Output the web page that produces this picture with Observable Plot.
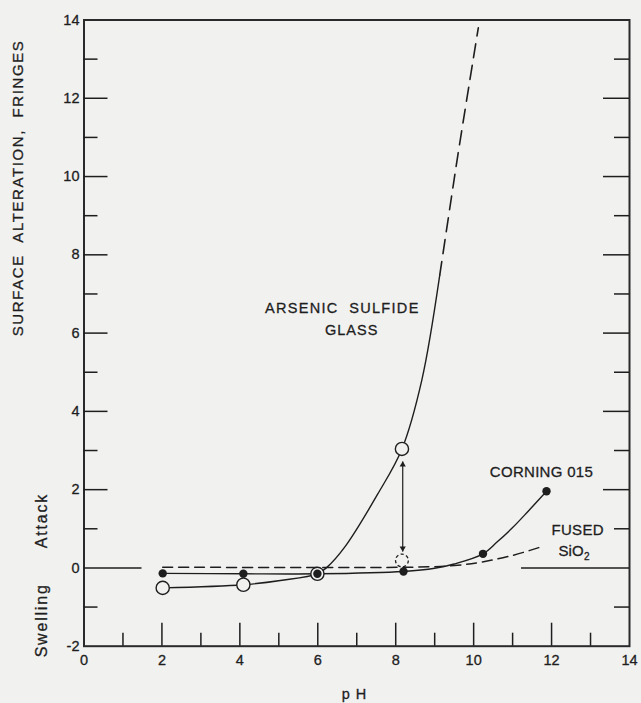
<!DOCTYPE html>
<html>
<head>
<meta charset="utf-8">
<script src="https://cdn.jsdelivr.net/npm/d3@7"></script>
<script src="https://cdn.jsdelivr.net/npm/@observablehq/plot@0.6"></script>
<style>
  html, body { margin: 0; padding: 0; background: #f1f1f0; }
  #chart svg { display: block; }
</style>
</head>
<body>
<div id="chart"></div>
<script>
// ---- axis ticks ----
const xMajorTicks = [2, 4, 6, 8, 10, 12];
const xMinorTicks = [1, 3, 5, 7, 9, 11, 13];
const xTickLabels = [0, 2, 4, 6, 8, 10, 12, 14];
const yMajorTicks = [2, 4, 6, 8, 10, 12];
const yMinorTicks = [-1, 1, 3, 5, 7, 9, 11, 13];
const yTickLabels = [-2, 0, 2, 4, 6, 8, 10, 12, 14];

// ---- Corning 015 ----
const corningPH      = [2.02, 4.09, 5.99, 8.2, 10.24, 11.87];
const corningFringes = [-0.14, -0.15, -0.15, -0.09, 0.36, 1.96];
const corningCurvePH      = [2.02, 4.09, 5.99, 8.2, 9.0, 9.5, 10.24, 10.6, 11.0, 11.4, 11.87];
const corningCurveFringes = [-0.14, -0.15, -0.15, -0.09, -0.01, 0.1, 0.36, 0.66, 1.03, 1.45, 1.96];

// ---- Arsenic sulfide glass ----
const arsenicPH      = [2.02, 4.09, 5.99, 8.16];
const arsenicFringes = [-0.51, -0.43, -0.15, 3.04];
const arsenicCorrectedPH      = [8.16];
const arsenicCorrectedFringes = [0.19];
const arsenicCurvePH      = [2.02, 4.09, 5.04, 5.99, 6.24, 6.69, 7.54, 8.16, 8.67, 9.13];
const arsenicCurveFringes = [-0.51, -0.43, -0.32, -0.15, 0.02, 0.53, 1.89, 3.04, 4.8, 7.48];
const arsenicExtrapPH      = [9.13, 9.43, 9.6, 10.12];
const arsenicExtrapFringes = [7.48, 9.47, 10.58, 13.8];

// shift between the two pH 8.2 readings
const shiftPH = [8.18];
const shiftFrom = [2.72];
const shiftTo = [0.42];

// ---- Fused SiO2 ----
const fusedPH      = [2.02, 8.5, 9.5, 10.2, 11.0, 11.8];
const fusedFringes = [0.02, 0.02, 0.06, 0.15, 0.32, 0.56];

// ---- text ----
const yTitle = "SURFACE\u00a0\u00a0ALTERATION,\u00a0\u00a0FRINGES";
const xTitle = "p H";
const attackLabel = "Attack";
const swellingLabel = "Swelling";
const arsenicLabel = ["ARSENIC\u00a0\u00a0SULFIDE", "GLASS"];
const corningLabel = "CORNING 015";
const fusedLabel = ["FUSED", "SiO", "2"];

const zip = (xs, ys) => xs.map((x, i) => ({x, y: ys[i]}));

const W = 641, H = 703;
const mL = 83.5, mR = 12, mT = 19.5, mB = 57.3;
const plotW = W - mL - mR, plotH = H - mT - mB;
const ink = "#1e1e1e";
const paper = "#f1f1f0";
const font = "'Liberation Sans', Arial, sans-serif";
// slightly heavier lettering
const letter = {fill: ink, stroke: ink, strokeWidth: 0.3, paintOrder: "fill"};

const chart = Plot.plot({
  width: W,
  height: H,
  marginLeft: mL, marginRight: mR, marginTop: mT, marginBottom: mB,
  x: {domain: [0, 14], axis: null},
  y: {domain: [-2, 14], axis: null},
  style: {background: paper, fontFamily: font, fontSize: "14px", color: ink},
  marks: [
    Plot.frame({stroke: "#2a2a2a", strokeWidth: 2}),

    // inward ticks: left, right, bottom
    Plot.tickY(yMajorTicks, {y: d => d, stroke: ink, strokeWidth: 1.5, insetRight: plotW - 24}),
    Plot.tickY(yMinorTicks, {y: d => d, stroke: ink, strokeWidth: 1.5, insetRight: plotW - 14}),
    Plot.tickY(yMajorTicks, {y: d => d, stroke: ink, strokeWidth: 1.5, insetLeft: plotW - 26}),
    Plot.tickY(yMinorTicks, {y: d => d, stroke: ink, strokeWidth: 1.5, insetLeft: plotW - 15}),
    Plot.tickX(xMajorTicks, {x: d => d, stroke: ink, strokeWidth: 1.5, insetTop: plotH - 23}),
    Plot.tickX(xMinorTicks, {x: d => d, stroke: ink, strokeWidth: 1.5, insetTop: plotH - 13}),

    // zero reference stubs at both sides
    Plot.tickY([0], {y: d => d, stroke: ink, strokeWidth: 1.6, insetRight: plotW - 58}),
    Plot.tickY([0], {y: d => d, stroke: ink, strokeWidth: 1.6, insetLeft: plotW - 108}),

    // tick labels
    Plot.text(yTickLabels, {y: d => d, text: d => String(d), frameAnchor: "left", textAnchor: "end",
      lineAnchor: "middle", dx: -4.5, fontSize: 14.5, ...letter}),
    Plot.text(xTickLabels, {x: d => d, text: d => String(d), frameAnchor: "bottom",
      lineAnchor: "middle", dy: 14.3, fontSize: 14.5, ...letter}),

    // axis titles
    Plot.text([yTitle], {text: d => d, frameAnchor: "left", y: 9.71, dx: -66, rotate: -90,
      textAnchor: "middle", lineAnchor: "middle", fontSize: 15, ...letter}),
    Plot.text([attackLabel], {text: d => d, frameAnchor: "left", y: 1.21, dx: -42, rotate: -90,
      textAnchor: "middle", lineAnchor: "middle", fontSize: 16, ...letter}),
    Plot.text([swellingLabel], {text: d => d, frameAnchor: "left", y: -1.34, dx: -42, rotate: -90,
      textAnchor: "middle", lineAnchor: "middle", fontSize: 16, ...letter}),
    Plot.text([xTitle], {text: d => d, x: 6.94, frameAnchor: "bottom", dy: 52.5,
      textAnchor: "middle", lineAnchor: "bottom", fontSize: 14.5, ...letter}),

    // fused SiO2
    Plot.line(zip(fusedPH, fusedFringes), {x: "x", y: "y", curve: "catmull-rom",
      stroke: ink, strokeWidth: 1.5, strokeDasharray: "10,6"}),

    // Corning 015 trend
    Plot.line(zip(corningCurvePH, corningCurveFringes), {x: "x", y: "y", curve: "catmull-rom",
      stroke: ink, strokeWidth: 1.4}),

    // arsenic sulfide trend + extrapolation
    Plot.line(zip(arsenicCurvePH, arsenicCurveFringes), {x: "x", y: "y", curve: "catmull-rom",
      stroke: ink, strokeWidth: 1.4}),
    Plot.line(zip(arsenicExtrapPH, arsenicExtrapFringes), {x: "x", y: "y", curve: "catmull-rom",
      stroke: ink, strokeWidth: 1.6, strokeDasharray: "14,8"}),

    // double-headed shift arrow
    Plot.link(shiftPH.map((x, i) => ({x, y1: shiftFrom[i], y2: shiftTo[i]})),
      {x1: "x", x2: "x", y1: "y1", y2: "y2", stroke: ink, strokeWidth: 1.2}),
    Plot.dot(shiftPH.map((x, i) => ({x, y: shiftFrom[i]})),
      {x: "x", y: "y", symbol: "triangle", r: 2.3, fill: ink, stroke: "none", dy: 3.3}),
    Plot.dot(shiftPH.map((x, i) => ({x, y: shiftTo[i]})),
      {x: "x", y: "y", symbol: "triangle", r: 2.3, fill: ink, stroke: "none", rotate: 180, dy: -3.3}),

    // arsenic sulfide points (open)
    Plot.dot(zip(arsenicPH, arsenicFringes), {x: "x", y: "y", r: 6.6, fill: paper,
      stroke: ink, strokeWidth: 1.4}),
    Plot.dot(zip(arsenicCorrectedPH, arsenicCorrectedFringes), {x: "x", y: "y", r: 6.4, fill: paper,
      stroke: ink, strokeWidth: 1.3, strokeDasharray: "3.2,2.4"}),

    // Corning 015 points (filled)
    Plot.dot(zip(corningPH, corningFringes), {x: "x", y: "y", r: 4.2, fill: ink, stroke: "none"}),

    // curve labels
    Plot.text([arsenicLabel[0]], {text: d => d, x: 6.63, y: 6.51, lineAnchor: "bottom",
      fontSize: 14.5, ...letter}),
    Plot.text([arsenicLabel[1]], {text: d => d, x: 6.87, y: 5.94, lineAnchor: "bottom",
      fontSize: 14.5, ...letter}),
    Plot.text([corningLabel], {text: d => d, x: 11.74, y: 2.335, lineAnchor: "bottom",
      fontSize: 15, ...letter}),
    Plot.text([fusedLabel[0]], {text: d => d, x: 12.67, y: 0.83, lineAnchor: "bottom",
      fontSize: 15, ...letter}),
    Plot.text([fusedLabel[1]], {text: d => d, x: 12.18, y: 0.317, lineAnchor: "bottom",
      textAnchor: "start", fontSize: 15, ...letter}),
    Plot.text([fusedLabel[2]], {text: d => d, x: 12.83, y: 0.19, lineAnchor: "bottom",
      textAnchor: "start", fontSize: 10, ...letter})
  ]
});

// letter spacing for the wide technical lettering
const spacing = new Map([
  [yTitle, "1.6px"],
  [attackLabel, "1.8px"],
  [swellingLabel, "1.8px"],
  [xTitle, "1px"],
  [arsenicLabel[0], "1.3px"],
  [arsenicLabel[1], "1px"],
  [corningLabel, "0.3px"],
  [fusedLabel[0], "0.3px"]
]);
d3.select(chart).selectAll("text").each(function () {
  const s = spacing.get(this.textContent);
  if (s) this.style.letterSpacing = s;
});

document.getElementById("chart").appendChild(chart);
</script>
</body>
</html>
